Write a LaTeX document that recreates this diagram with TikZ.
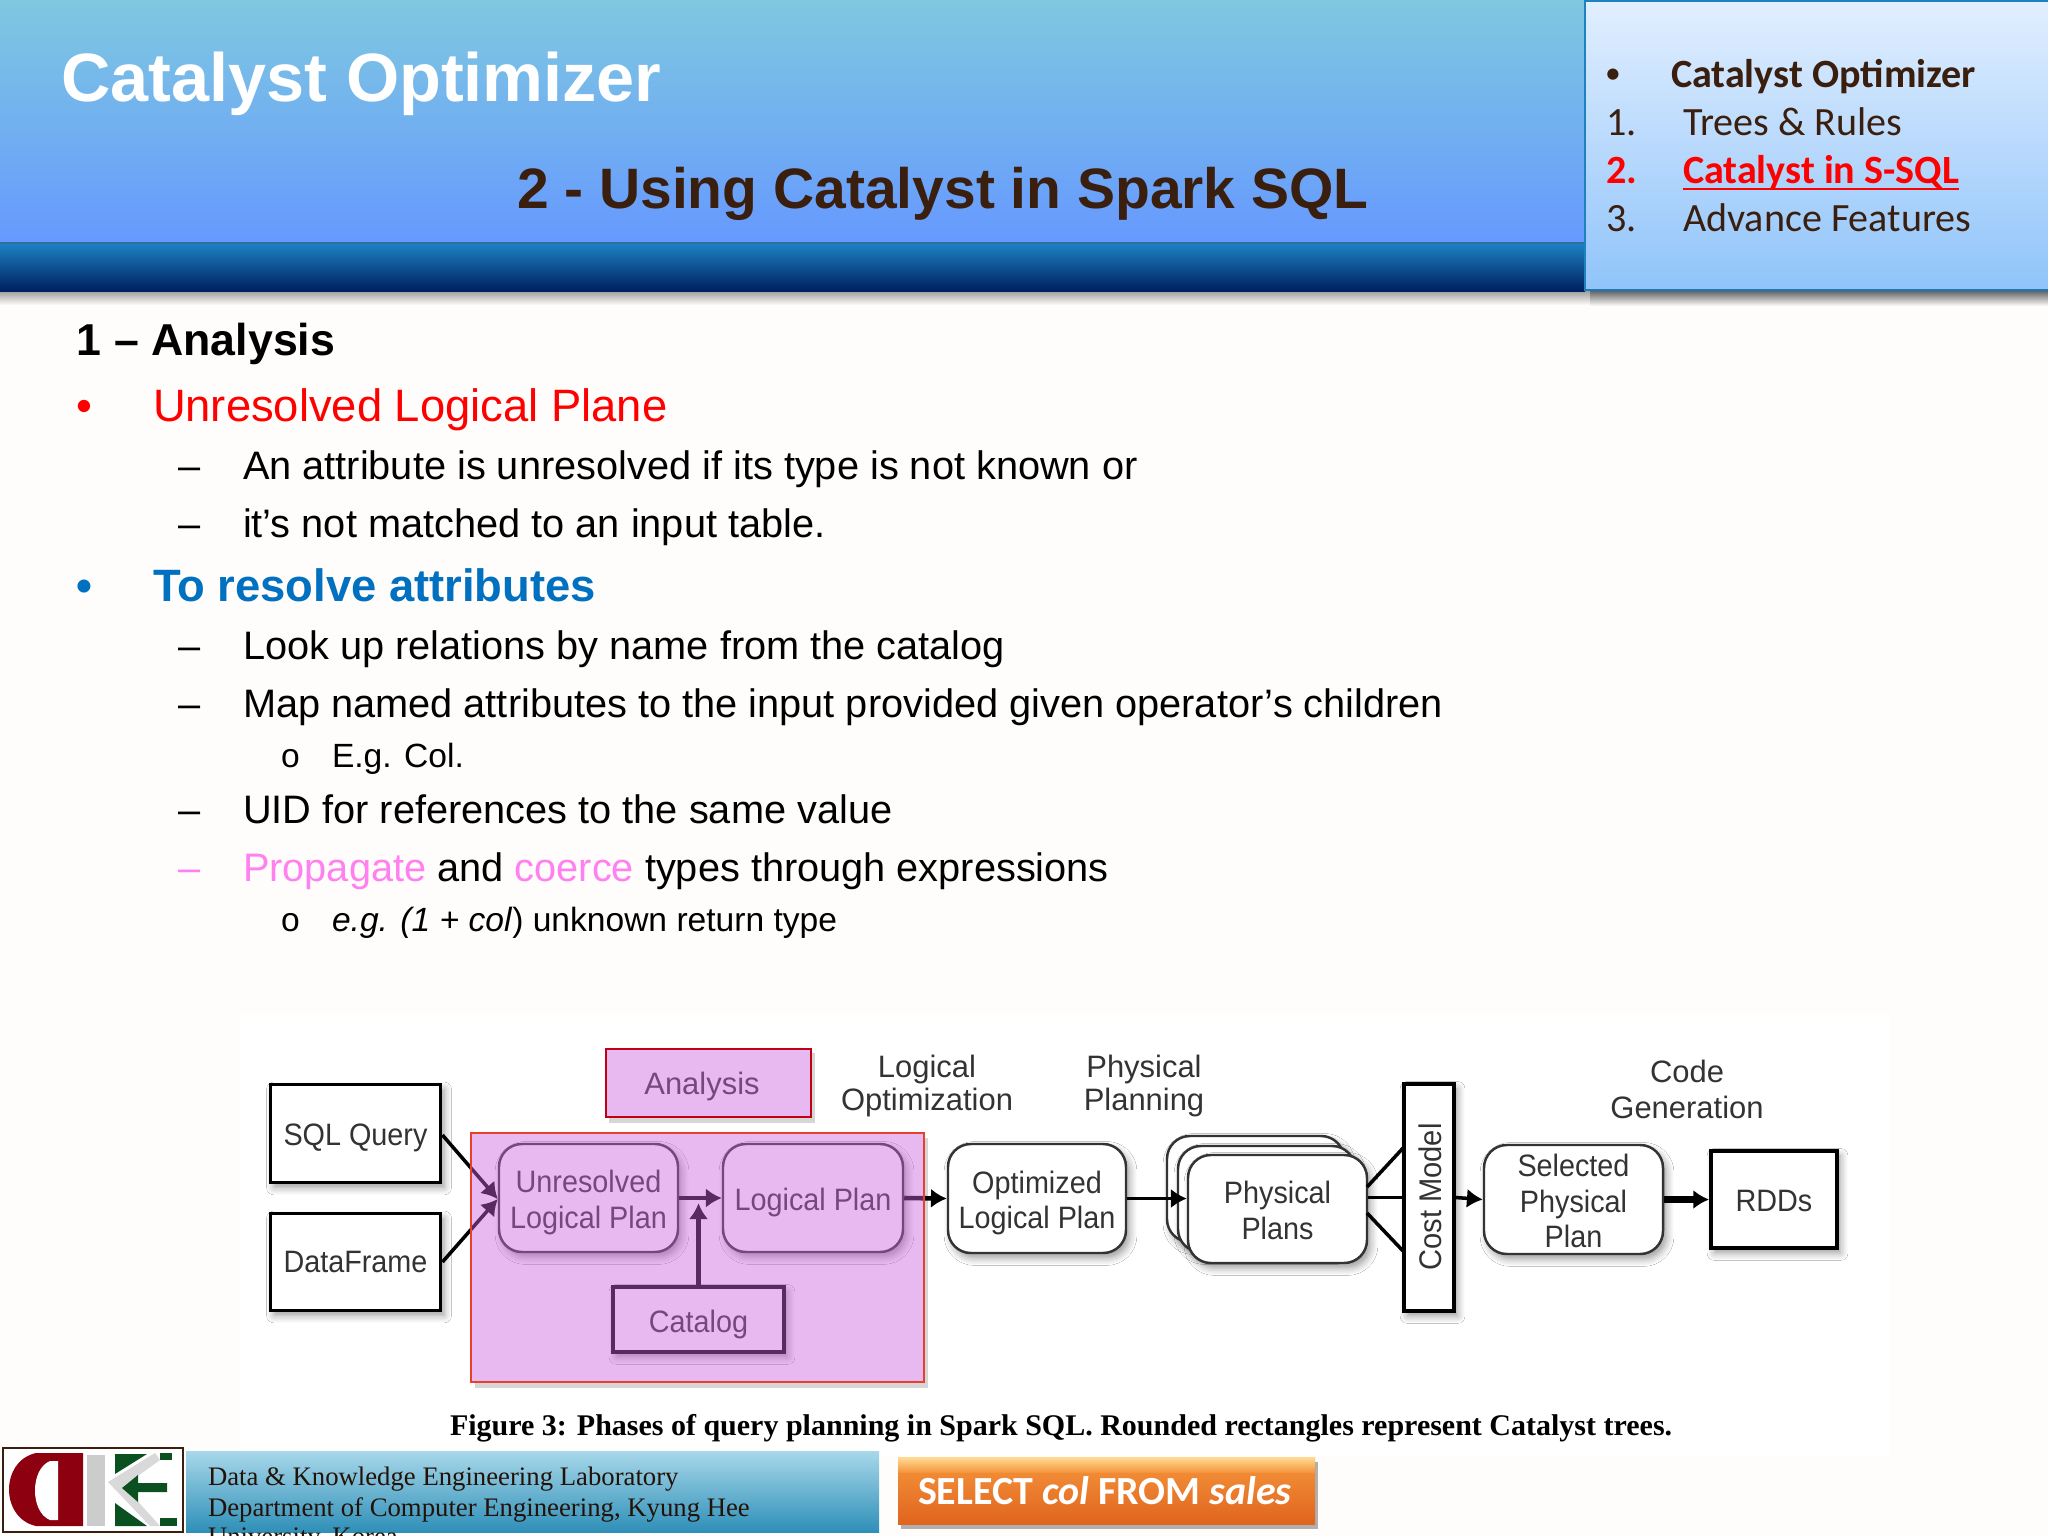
\documentclass[tikz,border=0pt]{standalone}
\usepackage{fontspec}
\setmainfont{Liberation Sans}
\newfontfamily\carlito{Carlito}
\newfontfamily\lserif{Liberation Serif}
\newfontfamily\narrowsans[FakeStretch=0.93]{Liberation Sans}
\usetikzlibrary{arrows.meta,shadows.blur}
\definecolor{pagebg}{HTML}{FFFDFB}
\definecolor{titbrown}{HTML}{3A1E0E}
\definecolor{bluetxt}{HTML}{0070C0}
\definecolor{pinktxt}{HTML}{FF80F0}
\definecolor{overlay}{HTML}{CC5FDF}
\definecolor{diagtxt}{HTML}{333333}
\definecolor{logored}{HTML}{8C0010}
\definecolor{logogreen}{HTML}{0A5020}
\newcommand\fsz[1]{\fontsize{#1}{#1}\selectfont}
\newcommand\lowtxt[1]{\raisebox{-1.7pt}[\height][\depth]{\begin{tabular}{@{}c@{}}#1\end{tabular}}}
\tikzset{
  x=0.01cm,y=-0.01cm,
  txt/.style={anchor=base west,inner sep=0pt,outer sep=0pt,font=\fsz{11.3}},
  subtxt/.style={txt,font=\fsz{9.55}},
  paneltxt/.style={txt,text=titbrown,font=\carlito\fsz{11.4}},
  panelbold/.style={txt,font=\carlito\bfseries\fsz{11.4}},
  dshadow/.style={blur shadow={shadow xshift=1pt,shadow yshift=-1.4pt,shadow blur steps=6,shadow opacity=40}},
  squarebox/.style={draw=black,line width=1.1pt,fill=white,dshadow,inner sep=0pt,text=diagtxt,font=\narrowsans\fsz{8.8},minimum width=#1},
  roundbox/.style={draw=black!80,line width=.7pt,rounded corners=6.5pt,fill=white,dshadow,inner sep=0pt,text=diagtxt,font=\narrowsans\fsz{8.8}},
  steplabel/.style={inner sep=0pt,text=diagtxt,font=\fsz{8.8}},
  conn/.style={line width=1pt,-{Latex[length=4.5pt,width=5.5pt]}},
  plainconn/.style={line width=1pt},
}
\begin{document}
\begin{tikzpicture}
\useasboundingbox (0,0) rectangle (2048,1536);
\fill[pagebg] (0,0) rectangle (2048,1536);
% shadow under the header
\shade[top color=black!38,bottom color=pagebg] (0,291) rectangle (1590,305);
\shade[top color=black!60,bottom color=pagebg] (1590,291) rectangle (2048,306);
% header
\shade[top color={rgb,255:red,126;green,200;blue,224},bottom color={rgb,255:red,102;green,153;blue,255}] (0,0) rectangle (1585,243);
\shade[top color={rgb,255:red,28;green,130;blue,196},bottom color={rgb,255:red,0;green,32;blue,96}] (0,243) rectangle (1585,291);
\draw[color={rgb,255:red,50;green,110;blue,160},line width=.3pt] (0,243) -- (1585,243);
% right panel
\shade[top color={rgb,255:red,226;green,239;blue,255},bottom color={rgb,255:red,144;green,196;blue,250}] (1585,0) rectangle (2048,290);
\draw[color={rgb,255:red,30;green,130;blue,190},line width=.8pt] (1585,291) -- (1585,0.5) -- (2048,0.5);
\draw[color={rgb,255:red,30;green,120;blue,180},line width=.8pt] (1585,290) -- (2048,290);
\node[txt,text=white,font=\bfseries\fsz{19.45}] (title) at (61,101) {Catalyst Optimizer};
\node[txt,text=titbrown,font=\bfseries\fsz{16.2}] (subtitle) at (517,208) {2 - Using Catalyst in Spark SQL};
\node[paneltxt,text=titbrown,font=\carlito\fsz{9}] (pb) at (1605,83) {•};
\node[panelbold,text=titbrown] (p0) at (1671,87) {Catalyst Optimizer};
\node[paneltxt] (n1) at (1606,135) {1.};
\node[paneltxt] (p1) at (1683,135) {Trees \& Rules};
\node[panelbold,text=red] (n2) at (1606,183) {2.};
\node[panelbold,text=red] (p2) at (1683,183) {Catalyst in S-SQL};
\draw[red,line width=.7pt] ([yshift=-1.7pt]p2.base west) -- ([yshift=-1.7pt]p2.base east);
\node[paneltxt] (n3) at (1606,231) {3.};
\node[paneltxt] (p3) at (1683,231) {Advance Features};
% body
\node[txt,font=\bfseries\fsz{12.7}] (h1) at (77,355) {1 – Analysis};
\node[txt,text=red,font=\fsz{12.9}] (b1) at (77,421) {•};
\node[txt,text=red,font=\fsz{12.9}] (h2) at (153,421) {Unresolved Logical Plane};
\node[txt] (d1) at (178,479) {–};
\node[txt] (t1) at (243,479) {An attribute is unresolved if its type is not known or};
\node[txt] (d2) at (178,537) {–};
\node[txt] (t2) at (243,537) {it’s not matched to an input table.};
\node[txt,text=bluetxt,font=\bfseries\fsz{12.9}] (b2) at (77,601) {•};
\node[txt,text=bluetxt,font=\bfseries\fsz{12.9}] (h3) at (153,601) {To resolve attributes};
\node[txt] (d3) at (178,659) {–};
\node[txt] (t3) at (243,659) {Look up relations by name from the catalog};
\node[txt] (d4) at (178,717) {–};
\node[txt] (t4) at (243,717) {Map named attributes to the input provided given operator’s children};
\node[subtxt] (o1) at (281,767) {o};
\node[subtxt] (t5) at (332,767) {E.g. Col.};
\node[txt] (d5) at (178,823) {–};
\node[txt] (t6) at (243,823) {UID for references to the same value};
\node[txt,text=pinktxt] (d6) at (178,881) {–};
\node[txt] (t7) at (243,881) {\textcolor{pinktxt}{Propagate} and \textcolor{pinktxt}{coerce} types through expressions};
\node[subtxt] (o2) at (281,931) {o};
\node[subtxt] (t8) at (332,931) {\textit{e.g. (1 + col}) unknown return type};
% figure
\fill[white] (240,1015) rectangle (1890,1456);
\node[squarebox=170*0.01cm,minimum height=98*0.01cm] (sql) at (355.5,1133.5) {\lowtxt{SQL Query}};
\node[squarebox=170*0.01cm,minimum height=97*0.01cm] (df) at (355.5,1262) {DataFrame};
\node[roundbox,minimum width=179*0.01cm,minimum height=108*0.01cm] (unres) at (588.5,1198) {\lowtxt{Unresolved\\[1pt]Logical Plan}};
\node[roundbox,minimum width=180*0.01cm,minimum height=108*0.01cm] (lp) at (813,1198) {\lowtxt{Logical Plan}};
\node[squarebox=171*0.01cm,minimum height=65*0.01cm,line width=1pt] (cat) at (698.5,1319.5) {\lowtxt{Catalog}};
\node[roundbox,minimum width=178*0.01cm,minimum height=109*0.01cm] (opt) at (1037,1198.5) {\lowtxt{Optimized\\[1pt]Logical Plan}};
\node[roundbox,minimum width=177*0.01cm,minimum height=106*0.01cm] (pp3) at (1255.5,1189) {};
\node[roundbox,minimum width=177*0.01cm,minimum height=106*0.01cm] (pp2) at (1266.5,1199) {};
\node[roundbox,minimum width=179*0.01cm,minimum height=108*0.01cm] (pp) at (1277.5,1209) {\lowtxt{Physical\\[1pt]Plans}};
\node[squarebox=50*0.01cm,minimum height=227*0.01cm,line width=1pt] (cost) at (1429,1197.5) {};
\node[rotate=90,inner sep=0pt,text=diagtxt,font=\narrowsans\fsz{8.9}] (costlab) at (1430,1197) {Cost Model};
\node[roundbox,minimum width=179*0.01cm,minimum height=109*0.01cm] (sel) at (1573.5,1199.5) {\lowtxt{Selected\\[1pt]Physical\\[1pt]Plan}};
\node[squarebox=126*0.01cm,minimum height=97*0.01cm] (rdd) at (1774,1199.5) {\lowtxt{RDDs}};
\node[steplabel] (lopt) at (927,1087.5) {\begin{tabular}{@{}c@{}}Logical\\[.6pt]Optimization\end{tabular}};
\node[steplabel] (pplan) at (1144,1087.5) {\begin{tabular}{@{}c@{}}Physical\\[.6pt]Planning\end{tabular}};
\node[steplabel] (cgen) at (1687,1094) {\begin{tabular}{@{}c@{}}Code\\[1pt]Generation\end{tabular}};
\node[steplabel] (anal) at (702,1086) {Analysis};
% connectors
\coordinate (inm) at (499,1199);
\coordinate (s1) at (441,1135);
\coordinate (s2) at (441,1262);
\draw[conn] (sql.east |- s1) -- (unres.west |- inm);
\draw[conn] (df.east |- s2) -- (unres.west |- inm);
\draw[conn] (unres.east) -- (lp.west);
\draw[conn,line width=1.3pt] (cat.north) -- ++(0,-82);
\draw[conn,line width=1.3pt] (lp.east) -- (opt.west);
\draw[conn] (opt.east) -- (pp.west |- opt.east);
\coordinate (a1) at (1367,1187);
\coordinate (a2) at (1404,1147);
\coordinate (b1c) at (1367,1213);
\coordinate (b2c) at (1404,1252);
\draw[plainconn] (a1) -- (a2);
\draw[plainconn] (b1c) -- (b2c);
\draw[plainconn] (pp.east |- cost.west) -- (cost.west);
\draw[conn] (cost.east) -- (sel.west);
\draw[conn,line width=1.9pt] (sel.east) -- (rdd.west);
% overlay panels with their outer shadows
\fill[black,opacity=.16] (475,1382) rectangle (928,1388);
\fill[black,opacity=.16] (924,1138) rectangle (928,1382);
\fill[black,opacity=.16] (609,1117) rectangle (815,1123);
\fill[black,opacity=.16] (811,1053) rectangle (815,1117);
\filldraw[fill=overlay,fill opacity=.44,draw={rgb,255:red,232;green,64;blue,42},line width=.6pt] (471,1133) rectangle (924,1382);
\filldraw[fill=overlay,fill opacity=.44,draw={rgb,255:red,192;green,0;blue,20},line width=.7pt] (606,1049) rectangle (811,1117);
% caption
\node[txt,font=\lserif\bfseries\fsz{8.53}] (cap) at (450,1435) {Figure 3: Phases of query planning in Spark SQL. Rounded rectangles represent Catalyst trees.};
% footer
\shade[top color={rgb,255:red,168;green,216;blue,234},bottom color={rgb,255:red,46;green,143;blue,184}] (186,1451) rectangle (879,1532);
\node[txt,font=\lserif\fsz{7.6},text=titbrown!60!black] (f1) at (208,1485) {Data \& Knowledge Engineering Laboratory};
\node[txt,font=\lserif\fsz{7.6},text=titbrown!60!black] (f2) at (208,1516) {Department of Computer Engineering, Kyung Hee};
\begin{scope}
\clip (0,0) rectangle (2048,1536);
\node[txt,font=\lserif\fsz{7.6},text=titbrown!60!black] (f3) at (208,1545) {University, Korea};
\end{scope}
% logo
\filldraw[fill=white,draw=titbrown,line width=.5pt] (3,1448) rectangle (183,1532);
\fill[logored] (36,1453) -- (83,1453) -- (83,1526) -- (36,1526) .. controls (0,1518) and (0,1461) .. (36,1453) -- cycle;
\fill[white] (50,1461) -- (58,1461) -- (58,1520) -- (50,1520) .. controls (30,1512) and (30,1469) .. (50,1461) -- cycle;
\fill[black!20] (87,1455) rectangle (105,1526);
\fill[logogreen] (115,1454) -- (147,1454) -- (115,1474) -- cycle;
\fill[logogreen] (115,1503) -- (147,1526) -- (115,1526) -- cycle;
\fill[black!15] (108,1482) -- (155,1453) -- (160,1460) -- (124,1486) -- (160,1526) -- (150,1526) -- cycle;
\fill[logogreen] (122,1488) -- (138,1475) -- (138,1483) -- (167,1483) -- (167,1492) -- (138,1492) -- (138,1502) -- cycle;
\fill[logogreen] (160,1518) rectangle (177,1526);
\fill[logogreen] (160,1453) rectangle (172,1460);
% button
\fill[black,opacity=.3] (901,1462) rectangle (1318,1529);
\shade[top color={rgb,255:red,245;green,150;blue,60},bottom color={rgb,255:red,224;green,100;blue,30}] (898,1457) rectangle (1315,1524);
\shade[top color={rgb,255:red,255;green,220;blue,150},bottom color={rgb,255:red,245;green,150;blue,60}] (898,1457) rectangle (1315,1472);
\node[txt,text=white,font=\carlito\bfseries\fsz{11.35}] (sel2) at (918,1504) {SELECT \textit{col} FROM \textit{sales}};
\end{tikzpicture}
\end{document}
